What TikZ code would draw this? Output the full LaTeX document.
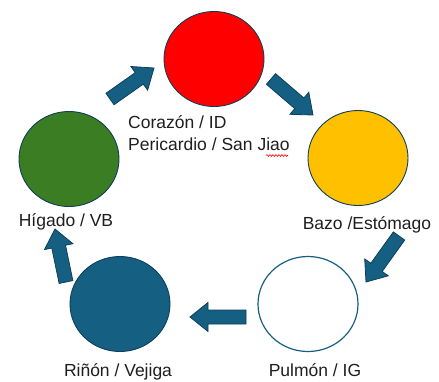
\documentclass[tikz,border=0pt]{standalone}
\usepackage{fontspec}
\setmainfont{Liberation Sans}
\usetikzlibrary{calc,shapes.geometric,decorations.pathmorphing}
\definecolor{accblue}{HTML}{156082}
\definecolor{edgeblue}{HTML}{0E3F57}
\definecolor{myred}{HTML}{FF0000}
\definecolor{myyellow}{HTML}{FFC000}
\definecolor{mygreen}{HTML}{3B7D23}
\tikzset{
  organ/.style={ellipse, draw=edgeblue, line width=0.9pt, minimum width=100pt, minimum height=95pt, inner sep=0pt},
  lbl/.style={inner sep=0pt, font=\fontsize{17.5}{21}\selectfont, text=black!88},
  barrow/.style={fill=accblue, draw=edgeblue, line width=0.8pt, line join=miter},
  squig/.style={draw=red, line width=0.6pt, decorate, decoration={snake, amplitude=0.9pt, segment length=3pt}}
}
\newcommand\blockarrow[2]{%
  \path ($(#2)!18pt!(#1)$) coordinate (bb);
  \draw[barrow] ($(#1)!7pt!90:(#2)$) -- ($(bb)!7pt!-90:(#1)$) -- ($(bb)!14.5pt!-90:(#1)$) -- (#2) -- ($(bb)!14.5pt!90:(#1)$) -- ($(bb)!7pt!90:(#1)$) -- ($(#1)!7pt!-90:(#2)$) -- cycle;}
\begin{document}
\begin{tikzpicture}[x=1pt,y=-1pt]
\useasboundingbox[fill=white] (0,0) rectangle (439,381);
% circles
\node[organ, fill=myred] (heart) at (214,59) {};
\node[organ, fill=myyellow] (spleen) at (358,158) {};
\node[organ, fill=white, draw=accblue, line width=1.2pt] (lung) at (308,304) {};
\node[organ, fill=accblue] (kidney) at (120,304) {};
\node[organ, fill=mygreen] (liver) at (69,159) {};
% labels
\node[lbl, anchor=base west] (l1a) at (128,128.3) {Corazón / ID};
\node[lbl, anchor=base west] (l1b) at (128,150.7) {Pericardio / San Jiao};
\node[lbl, anchor=base] (l2) at (367,229) {Bazo /Estómago};
\node[lbl, anchor=base] (l3) at (315,376.7) {Pulmón / IG};
\node[lbl, anchor=base] (l4) at (118,376.7) {Riñón / Vejiga};
\node[lbl, anchor=base] (l5) at (66,226.7) {Hígado / VB};
% spell-check underline
\coordinate (sq1) at (266,155.5);
\coordinate (sq2) at (288,155.5);
\draw[squig] (sq1) -- (sq2);
% arrows
\coordinate (a1t) at (110,99); \coordinate (a1h) at (154,68);
\coordinate (a2t) at (271,79); \coordinate (a2h) at (313,115);
\coordinate (a3t) at (399,236); \coordinate (a3h) at (366,282);
\coordinate (a4t) at (246,317); \coordinate (a4h) at (190,317);
\coordinate (a5t) at (66,282); \coordinate (a5h) at (55,229);
\blockarrow{a1t}{a1h}
\blockarrow{a2t}{a2h}
\blockarrow{a3t}{a3h}
\blockarrow{a4t}{a4h}
\blockarrow{a5t}{a5h}
\end{tikzpicture}
\end{document}
